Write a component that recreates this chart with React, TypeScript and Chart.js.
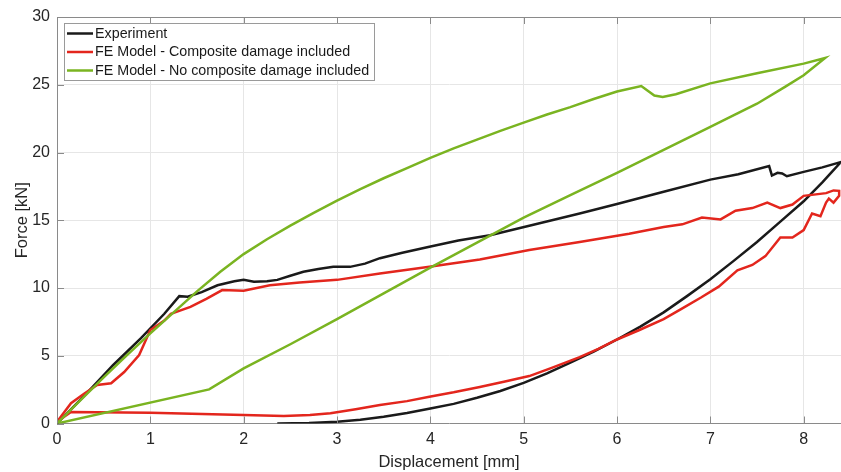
import React, { useEffect, useRef } from "react";
import { Chart, registerables } from "chart.js";

Chart.register(...registerables);

// ---- Data ----
const seriesNames = [
  "Experiment",
  "FE Model - Composite damage included",
  "FE Model - No composite damage included",
];

const expX = [
  0, 0.3, 0.6, 0.9, 1.15, 1.31, 1.4, 1.55, 1.72, 1.9, 2.0, 2.11, 2.25, 2.36, 2.5, 2.64, 2.8, 2.96, 3.14, 3.3,
  3.46, 3.7, 3.99, 4.3, 4.64, 5.06, 5.6, 6.0, 6.5, 7.0, 7.3, 7.63, 7.66, 7.72, 7.77, 7.82, 8.0, 8.2, 8.4,
  8.3, 8.2, 8.1, 8.0, 7.75, 7.5, 7.25, 7.0, 6.75, 6.5, 6.25, 6.0, 5.75, 5.5, 5.25, 5.0, 4.75, 4.5, 4.25, 4.0,
  3.75, 3.5, 3.25, 3.0, 2.7, 2.36,
];
const expY = [
  0, 2.1, 4.3, 6.3, 8.1, 9.4, 9.35, 9.7, 10.2, 10.5, 10.6, 10.46, 10.5, 10.6, 10.9, 11.2, 11.4, 11.56, 11.56, 11.8,
  12.2, 12.6, 13.04, 13.5, 13.9, 14.6, 15.5, 16.2, 17.1, 18.0, 18.4, 19.0, 18.3, 18.5, 18.45, 18.25, 18.57, 18.9, 19.3,
  18.55, 17.8, 17.1, 16.4, 14.9, 13.4, 12.0, 10.65, 9.4, 8.2, 7.15, 6.2, 5.3, 4.5, 3.7, 3.0, 2.4, 1.9, 1.45, 1.1,
  0.78, 0.5, 0.28, 0.13, 0.03, 0,
];

const femX = [
  0, 0.15, 0.29, 0.43, 0.58, 0.72, 0.88, 1.0, 1.15, 1.22, 1.43, 1.6, 1.77, 2.0, 2.28, 2.6, 3.0, 3.46, 3.99, 4.53,
  5.06, 5.6, 6.13, 6.5, 6.7, 6.91, 7.11, 7.27, 7.45, 7.61, 7.75, 7.88, 8.0, 8.24, 8.32, 8.38,
  8.38, 8.32, 8.27, 8.24, 8.18, 8.09, 8.0, 7.88, 7.75, 7.59, 7.45, 7.29, 7.09, 6.9, 6.7, 6.5, 6.24, 6.0, 5.8, 5.6,
  5.3, 5.06, 4.8, 4.53, 4.25, 3.99, 3.75, 3.46, 3.2, 2.93, 2.71, 2.43, 2.0, 1.0, 0.15, 0,
];
const femY = [
  0.13, 1.5, 2.2, 2.84, 2.97, 3.8, 5.05, 6.9, 7.6, 8.1, 8.6, 9.2, 9.85, 9.8, 10.2, 10.4, 10.6, 11.07, 11.56, 12.1,
  12.8, 13.4, 14.0, 14.5, 14.7, 15.2, 15.06, 15.7, 15.9, 16.3, 15.9, 16.16, 16.8, 17.0, 17.2, 17.17,
  16.8, 16.3, 16.6, 16.3, 15.3, 15.5, 14.27, 13.73, 13.73, 12.35, 11.7, 11.3, 10.1, 9.3, 8.5, 7.7, 6.9, 6.2, 5.5, 4.9,
  4.1, 3.5, 3.1, 2.7, 2.3, 1.98, 1.65, 1.36, 1.05, 0.75, 0.63, 0.55, 0.63, 0.8, 0.85, 0.13,
];

const noDmgX = [
  0, 0.25, 0.5, 0.75, 1.0, 1.25, 1.5, 1.75, 2.0, 2.25, 2.5, 2.75, 3.0, 3.25, 3.5, 3.75, 4.0, 4.25, 4.5, 4.75,
  5.0, 5.25, 5.5, 5.75, 6.0, 6.26, 6.4, 6.49, 6.63, 7.0, 7.5, 8.0, 8.23,
  8.0, 7.8, 7.5, 7.0, 6.5, 6.0, 5.5, 5.0, 4.5, 4.0, 3.5, 3.0, 2.5, 2.0, 1.63, 0,
];
const noDmgY = [
  0, 1.7, 3.4, 5.05, 6.65, 8.2, 9.75, 11.2, 12.5, 13.6, 14.6, 15.55, 16.45, 17.3, 18.1, 18.85, 19.6, 20.3, 20.95, 21.6,
  22.2, 22.8, 23.35, 23.95, 24.5, 24.9, 24.2, 24.1, 24.3, 25.1, 25.85, 26.56, 26.98,
  25.7, 24.84, 23.6, 21.9, 20.2, 18.5, 16.85, 15.2, 13.35, 11.5, 9.6, 7.7, 5.85, 4.07, 2.52, 0,
];

const seriesColors = ["#1a1a1a", "#e3261d", "#7ab421"];

const xMin = 0;
const xMax = 8.4;
const yMin = 0;
const yMax = 30;
const xStep = 1;
const yStep = 5;

const xTitle = "Displacement [mm]";
const yTitle = "Force [kN]";

const FONT = "'Liberation Sans', Arial, Helvetica, sans-serif";

const toPoints = (xs: number[], ys: number[]) => xs.map((x, i) => ({ x, y: ys[i] }));

const matlabPlugin = {
  id: "matlabAxes",
  afterDatasetsDraw(chart: any) {
    const { ctx, chartArea } = chart;
    const { left, right, top, bottom } = chartArea;
    const xs = chart.scales.x;
    const ys = chart.scales.y;
    ctx.save();
    ctx.strokeStyle = "#8a8a8a";
    ctx.lineWidth = 1;
    ctx.beginPath();
    ctx.moveTo(left, top + 0.5);
    ctx.lineTo(right, top + 0.5);
    ctx.stroke();
    const tl = 7;
    ctx.beginPath();
    xs.ticks.forEach((t: any) => {
      const px = Math.round(xs.getPixelForValue(t.value)) + 0.5;
      ctx.moveTo(px, bottom);
      ctx.lineTo(px, bottom - tl);
      ctx.moveTo(px, top);
      ctx.lineTo(px, top + tl);
    });
    ys.ticks.forEach((t: any) => {
      const py = Math.round(ys.getPixelForValue(t.value)) + 0.5;
      ctx.moveTo(left, py);
      ctx.lineTo(left + tl, py);
    });
    ctx.stroke();

    // legend
    const bx = 64.5, by = 23.5, bw = 310, bh = 57;
    ctx.fillStyle = "#ffffff";
    ctx.fillRect(bx, by, bw, bh);
    ctx.strokeStyle = "#9a9a9a";
    ctx.lineWidth = 1;
    ctx.strokeRect(bx, by, bw, bh);
    const rows = [33.5, 52, 70.5];
    ctx.font = `14.3px ${FONT}`;
    ctx.textBaseline = "middle";
    ctx.textAlign = "left";
    seriesNames.forEach((name, i) => {
      ctx.strokeStyle = seriesColors[i];
      ctx.lineWidth = 2.5;
      ctx.beginPath();
      ctx.moveTo(67, rows[i]);
      ctx.lineTo(93, rows[i]);
      ctx.stroke();
      ctx.fillStyle = "#1a1a1a";
      ctx.fillText(name, 95, rows[i] + 0.5);
    });
    ctx.restore();
  },
};

export default function App() {
  const ref = useRef<HTMLCanvasElement>(null);
  useEffect(() => {
    document.body.style.margin = "0";
    const canvas = ref.current;
    if (!canvas) return;
    const data = [toPoints(expX, expY), toPoints(femX, femY), toPoints(noDmgX, noDmgY)];
    const chart = new Chart(canvas, {
      type: "scatter",
      data: {
        datasets: seriesNames.map((name, i) => ({
          label: name,
          data: data[i],
          showLine: true,
          borderColor: seriesColors[i],
          backgroundColor: seriesColors[i],
          borderWidth: 2.5,
          pointRadius: 0,
          pointHoverRadius: 0,
          tension: 0,
          fill: false,
          order: 2 - i,
        })),
      },
      options: {
        responsive: false,
        animation: false,
        events: [],
        layout: { padding: { top: 17, right: 0, bottom: 0, left: 0 } },
        plugins: {
          legend: { display: false },
          tooltip: { enabled: false },
        },
        scales: {
          x: {
            type: "linear",
            min: xMin,
            max: xMax,
            afterFit: (s: any) => {
              s.height = 48.5;
            },
            ticks: {
              stepSize: xStep,
              includeBounds: false,
              color: "#262626",
              font: { family: FONT, size: 16 },
              padding: 6,
              maxRotation: 0,
            },
            grid: { color: "#e6e6e6", lineWidth: 1, drawTicks: false },
            border: { display: true, color: "#8a8a8a", width: 1 },
            title: {
              display: true,
              text: xTitle,
              color: "#262626",
              font: { family: FONT, size: 16.5 },
              padding: { top: 0, bottom: 0 },
            },
          },
          y: {
            type: "linear",
            min: yMin,
            max: yMax,
            afterFit: (s: any) => {
              s.width = 57;
            },
            ticks: {
              stepSize: yStep,
              color: "#262626",
              font: { family: FONT, size: 16 },
              padding: 7,
            },
            grid: { color: "#e6e6e6", lineWidth: 1, drawTicks: false },
            border: { display: true, color: "#8a8a8a", width: 1 },
            title: {
              display: true,
              text: yTitle,
              color: "#262626",
              font: { family: FONT, size: 16.5 },
              padding: { top: 13, bottom: 0 },
            },
          },
        },
      },
      plugins: [matlabPlugin],
    });
    return () => chart.destroy();
  }, []);
  return (
    <div style={{ width: 841, height: 472, position: "relative" }}>
      <canvas ref={ref} width={841} height={472} style={{ display: "block" }} />
    </div>
  );
}
